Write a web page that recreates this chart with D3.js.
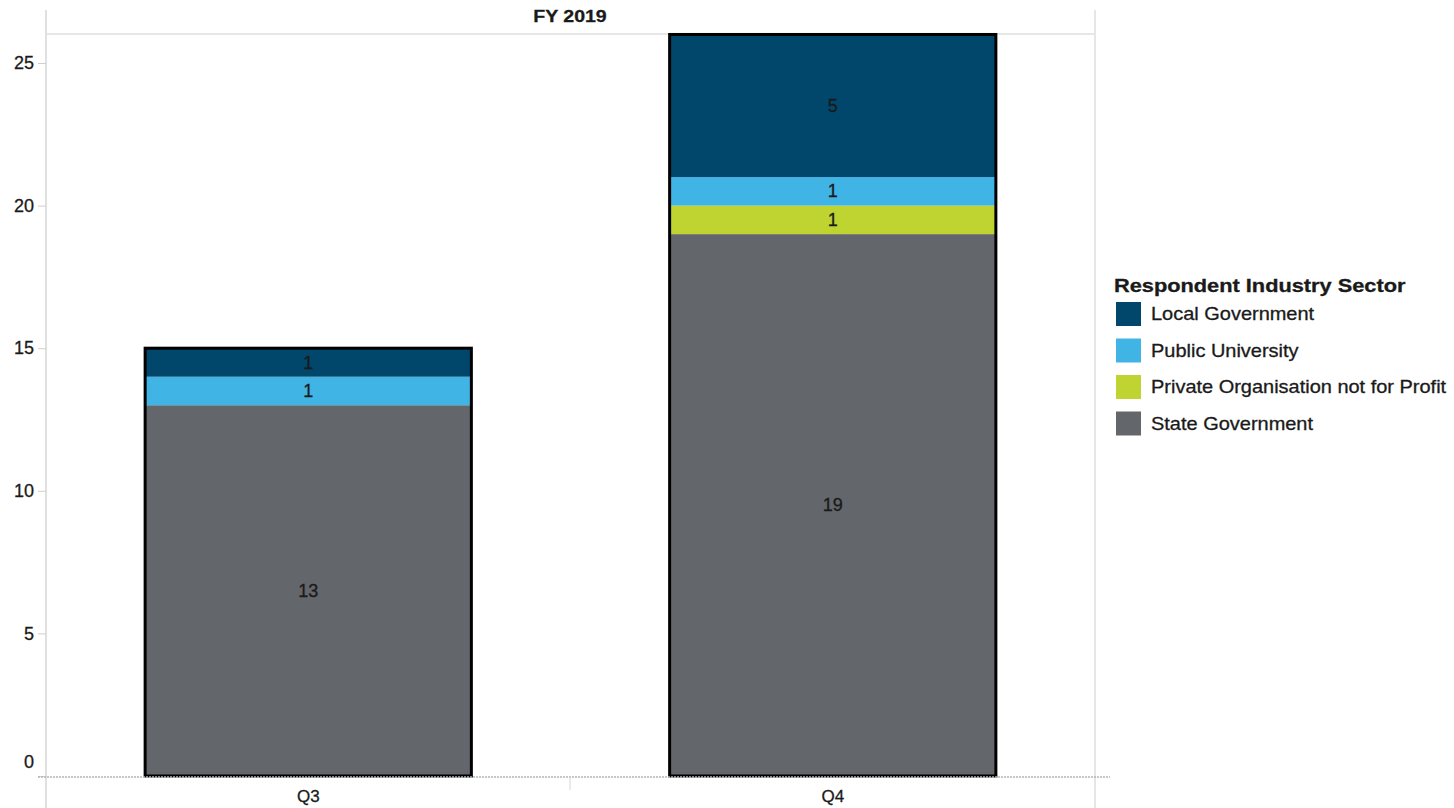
<!DOCTYPE html>
<html>
<head>
<meta charset="utf-8">
<script src="https://cdn.jsdelivr.net/npm/d3@7"></script>
<style>
  body { margin: 0; background: #fff; }
  text { font-family: "Liberation Sans", Arial, sans-serif; fill: #1a1a1a; stroke: #1a1a1a; stroke-width: 0.3px; }
</style>
</head>
<body>
<script>
// data
var quarters = ["Q3", "Q4"];
var sectors = ["State Government", "Private Organisation not for Profit", "Public University", "Local Government"];
var stateGov = [13, 19];
var privateOrg = [0, 1];
var publicUni = [1, 1];
var localGov = [1, 5];
var yTicks = [0, 5, 10, 15, 20, 25];
var legendOrder = ["Local Government", "Public University", "Private Organisation not for Profit", "State Government"];

var width = 1454,
    height = 808;

var color = d3.scaleOrdinal()
    .domain(sectors)
    .range(["#63666a", "#bfd431", "#41b4e6", "#00476b"]);

var rows = quarters.map(function(q, i) {
  return {
    quarter: q,
    "State Government": stateGov[i],
    "Private Organisation not for Profit": privateOrg[i],
    "Public University": publicUni[i],
    "Local Government": localGov[i]
  };
});

var series = d3.stack().keys(sectors)(rows);
var topLayer = series[series.length - 1];

var x = d3.scaleBand()
    .domain(quarters)
    .range([46, 1095])
    .paddingInner(0.378)
    .paddingOuter(0.189);

var y = d3.scaleLinear()
    .domain([0, 25])
    .range([776, 63]);

var svg = d3.select("body").append("svg")
    .attr("width", width)
    .attr("height", height);

// text that is a little wider than the installed font draws it
function wideText(parent, tx, ty, sx) {
  return parent.append("g")
      .attr("transform", "translate(" + tx + "," + ty + ") scale(" + sx + ",1)")
    .append("text");
}

// frame lines
svg.append("line")
    .attr("x1", 46).attr("x2", 1095)
    .attr("y1", 34).attr("y2", 34)
    .attr("stroke", "#e6e6e6").attr("stroke-width", 2);
svg.append("line")
    .attr("x1", 46).attr("x2", 46)
    .attr("y1", 10).attr("y2", height)
    .attr("stroke", "#e0e0e0").attr("stroke-width", 2);
svg.append("line")
    .attr("x1", 1095).attr("x2", 1095)
    .attr("y1", 10).attr("y2", height)
    .attr("stroke", "#e6e6e6").attr("stroke-width", 2);

wideText(svg, 570, 22, 1.15)
    .attr("text-anchor", "middle")
    .attr("font-size", 17).attr("font-weight", "bold")
    .text("FY 2019");

// y axis
var yAxis = svg.append("g")
    .attr("transform", "translate(46,0)")
    .call(d3.axisLeft(y).tickValues(yTicks).tickSize(8).tickPadding(4));
yAxis.select(".domain").remove();
yAxis.selectAll(".tick line").attr("stroke", "#cfcfcf");
yAxis.selectAll(".tick text")
    .attr("font-size", 18)
    .attr("font-family", null)
    .attr("fill", null);
yAxis.selectAll(".tick").filter(function(d) { return d === 0; })
    .select("text").attr("dy", "-0.5em");

// stacked bars
var bw = x.bandwidth();
var bars = svg.append("g");

series.forEach(function(s) {
  bars.selectAll(".seg-" + sectors.indexOf(s.key))
      .data(s.filter(function(d) { return d[1] > d[0]; }))
      .enter().append("rect")
      .attr("x", function(d) { return x(d.data.quarter); })
      .attr("width", bw)
      .attr("y", function(d) { return y(d[1]); })
      .attr("height", function(d) { return y(d[0]) - y(d[1]); })
      .attr("fill", color(s.key));
});

// black outline round each bar
bars.selectAll(".outline")
    .data(topLayer)
    .enter().append("rect")
    .attr("class", "outline")
    .attr("x", function(d) { return x(d.data.quarter); })
    .attr("width", bw)
    .attr("y", function(d) { return y(d[1]); })
    .attr("height", function(d) { return y(0) - y(d[1]); })
    .attr("fill", "none")
    .attr("stroke", "#000")
    .attr("stroke-width", 3);

series.forEach(function(s) {
  bars.selectAll(".lbl-" + sectors.indexOf(s.key))
      .data(s.filter(function(d) { return d[1] > d[0]; }))
      .enter().append("text")
      .attr("x", function(d) { return x(d.data.quarter) + bw / 2; })
      .attr("y", function(d) { return (y(d[0]) + y(d[1])) / 2; })
      .attr("dy", "0.34em")
      .attr("text-anchor", "middle")
      .attr("font-size", 18)
      .text(function(d) { return d[1] - d[0]; });
});

// x axis
svg.append("line")
    .attr("x1", 38).attr("x2", 1110)
    .attr("y1", 777).attr("y2", 777)
    .attr("stroke", "#b5b5b5").attr("stroke-width", 1.5)
    .attr("stroke-dasharray", "2,1");
svg.append("line")
    .attr("x1", 570).attr("x2", 570)
    .attr("y1", 777).attr("y2", 790)
    .attr("stroke", "#d5d5d5");

svg.selectAll(".xlabel")
    .data(quarters)
    .enter().append("text")
    .attr("x", function(d) { return x(d) + bw / 2; })
    .attr("y", 802)
    .attr("text-anchor", "middle")
    .attr("font-size", 17)
    .text(function(d) { return d; });

// legend
var legend = svg.append("g").attr("transform", "translate(1114,0)");
wideText(legend, 0, 292, 1.21)
    .attr("font-size", 18).attr("font-weight", "bold")
    .text("Respondent Industry Sector");

var item = legend.selectAll(".item")
    .data(legendOrder)
    .enter().append("g")
    .attr("transform", function(d, i) { return "translate(2," + (302 + i * 36.5) + ")"; });
item.append("rect")
    .attr("width", 25).attr("height", 24)
    .attr("fill", function(d) { return color(d); });
item.each(function(d) {
  wideText(d3.select(this), 35, 18, 1.11)
      .attr("font-size", 18)
      .text(d);
});
</script>
</body>
</html>
